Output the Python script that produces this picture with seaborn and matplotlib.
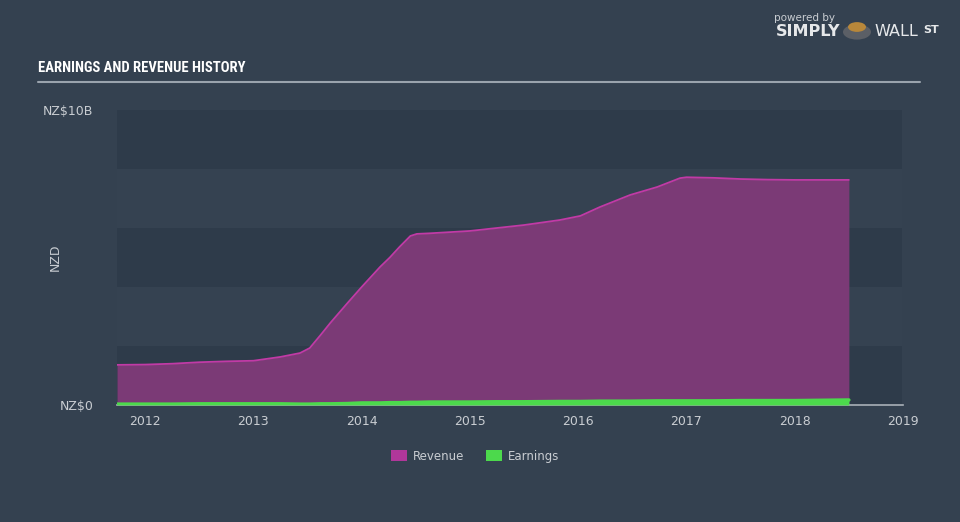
import numpy as np
import pandas as pd
import matplotlib
matplotlib.use("Agg")
import matplotlib.pyplot as plt
from matplotlib.patches import Patch, Circle
from matplotlib import font_manager
import seaborn as sns

# ---- data (NZ$ billions, decimal years) ----
years = [2011.74, 2012.0, 2012.25, 2012.5, 2012.75, 2013.0, 2013.25, 2013.43, 2013.52,
         2013.62, 2013.71, 2013.87, 2014.0, 2014.17, 2014.26, 2014.35, 2014.45, 2014.51,
         2014.63, 2015.0, 2015.25, 2015.5, 2015.83, 2016.02, 2016.2, 2016.48, 2016.73,
         2016.94, 2017.0, 2017.25, 2017.5, 2017.75, 2018.0, 2018.25, 2018.5]
revenue = [1.36, 1.37, 1.40, 1.45, 1.48, 1.50, 1.63, 1.76, 1.93,
           2.37, 2.78, 3.46, 4.00, 4.68, 5.00, 5.36, 5.73, 5.80,
           5.82, 5.90, 6.00, 6.10, 6.27, 6.41, 6.71, 7.12, 7.39,
           7.69, 7.72, 7.70, 7.66, 7.64, 7.63, 7.63, 7.63]
earnings = [0.03, 0.03, 0.03, 0.04, 0.04, 0.04, 0.04, 0.03, 0.03,
            0.04, 0.04, 0.05, 0.07, 0.07, 0.08, 0.08, 0.09, 0.09,
            0.10, 0.10, 0.11, 0.11, 0.12, 0.12, 0.13, 0.13, 0.14,
            0.14, 0.14, 0.14, 0.15, 0.15, 0.15, 0.16, 0.17]
xticks = [2012, 2013, 2014, 2015, 2016, 2017, 2018, 2019]
ytick_vals = [0, 10]
ytick_labels = ["NZ$0", "NZ$10B"]

df = pd.DataFrame({"year": years, "Revenue": revenue, "Earnings": earnings})

sns.set_style("dark")
plt.rcParams["font.family"] = ["DejaVu Sans"]

BG = "#344150"
BAND_DARK = "#2e3b4a"
BAND_LIGHT = "#354251"
REV_FILL = "#7b3a76"
REV_LINE = "#c13aa6"
EARN = "#4cd94c"
TXT = "#c9cdd2"

installed = {f.name for f in font_manager.fontManager.ttflist}
title_fam = [f for f in ["Roboto Condensed", "Liberation Sans Narrow", "DejaVu Sans Condensed",
                         "Roboto", "DejaVu Sans"] if f in installed][:1] or ["DejaVu Sans"]

fig = plt.figure(figsize=(9.6, 5.22), dpi=100, facecolor=BG)
ax = fig.add_axes([117/960, 1-405/522, (903-117)/960, (405-110)/522])
ax.set_facecolor(BG)

xmin, xmax = 2011.74, 2019.0
ax.set_xlim(xmin, xmax)
ax.set_ylim(0, 10)

# bands
for i, (lo, hi) in enumerate([(0, 2), (2, 4), (4, 6), (6, 8), (8, 10)]):
    ax.axhspan(lo, hi, xmin=0, xmax=(2018.995-xmin)/(xmax-xmin),
               color=BAND_DARK if i % 2 == 0 else BAND_LIGHT, lw=0, zorder=0)

ax.fill_between(df["year"], df["Revenue"], 0, color=REV_FILL, lw=0, zorder=1)
sns.lineplot(data=df, x="year", y="Revenue", ax=ax, color=REV_LINE, lw=1.3, zorder=2)
ax.fill_between(df["year"], df["Earnings"], 0, color=EARN, lw=0, zorder=3)
sns.lineplot(data=df, x="year", y="Earnings", ax=ax, color=EARN, lw=2.5, zorder=4)

for s in ["top", "right", "left"]:
    ax.spines[s].set_visible(False)
ax.spines["bottom"].set_visible(True)
ax.spines["bottom"].set_color("#a9b0b8")
ax.spines["bottom"].set_linewidth(1.2)
ax.grid(False)

ax.set_xticks(xticks)
ax.set_xticklabels([str(t) for t in xticks])
ax.tick_params(axis="x", colors="#a9b0b8", length=7, width=1, direction="out",
               labelcolor=TXT, labelsize=9, pad=0)
ax.set_yticks(ytick_vals)
ax.set_yticklabels(ytick_labels)
ax.tick_params(axis="y", length=0, labelcolor=TXT, labelsize=9, pad=17)
ax.set_xlabel("")
ax.set_ylabel("NZD", color=TXT, fontsize=9)
ax.yaxis.set_label_coords((62-117)/786, 0.5)

# title
fig.text(38/960, 1-68/522, "EARNINGS AND REVENUE HISTORY", color="white",
         fontsize=10.5, fontweight="bold", va="center", ha="left",
         family=title_fam)
fig.add_artist(plt.Line2D([38/960, 920/960], [1-82/522, 1-82/522],
                          color="#9aa3ad", lw=1.5))

# legend
handles = [Patch(facecolor="#b0379a", edgecolor="none", label="Revenue"),
           Patch(facecolor=EARN, edgecolor="none", label="Earnings")]
leg = fig.legend(handles=handles, loc="center", bbox_to_anchor=(475/960, 1-456/522),
                 ncol=2, frameon=False, fontsize=8.5, handlelength=1.4, handleheight=1.1,
                 columnspacing=1.8, handletextpad=0.5)
for t in leg.get_texts():
    t.set_color(TXT)

# logo
fig.text(805/960, 1-18/522, "powered by", color="#c9cdd2", fontsize=7.5, ha="center", va="center")
fig.text(808/960, 1-32/522, "SIMPLY", color="#e6e8ea", fontsize=11.5, fontweight="bold",
         ha="center", va="center")
fig.add_artist(Circle((857/960, 1-32/522), 14/960, transform=fig.transFigure,
                      facecolor="#5b5f66", edgecolor="none"))
fig.add_artist(Circle((857/960, 1-27/522), 9/960, transform=fig.transFigure,
                      facecolor="#b8873a", edgecolor="none"))
fig.text(896/960, 1-32/522, "WALL", color="#e6e8ea", fontsize=11.5, ha="center", va="center")
fig.text(931/960, 1-30/522, "ST", color="#e6e8ea", fontsize=8, fontweight="bold",
         ha="center", va="center")

fig.savefig("out.png", dpi=100, facecolor=BG)
